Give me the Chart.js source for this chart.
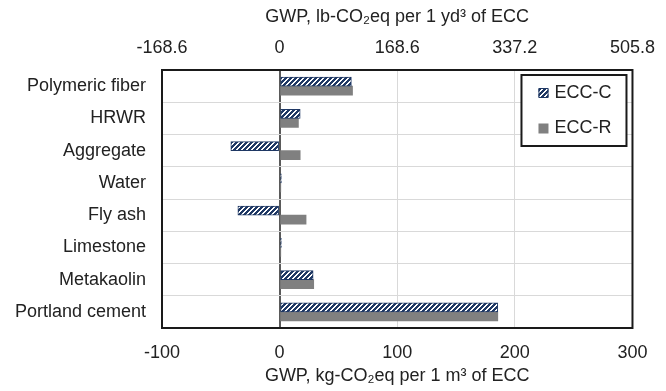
<!DOCTYPE html>
<html>
<head>
<meta charset="utf-8">
<script src="https://cdn.jsdelivr.net/npm/chart.js@4"></script>
<style>
  html, body { margin: 0; padding: 0; background: #fff; }
  #wrap { width: 666px; height: 391px; position: relative; }
</style>
</head>
<body>
<div id="wrap"><canvas id="chart"></canvas></div>
<script>
// components of the ECC mix, top to bottom
const materials = ["Polymeric fiber", "HRWR", "Aggregate", "Water", "Fly ash", "Limestone", "Metakaolin", "Portland cement"];
// GWP, kg-CO2eq per 1 m3 of ECC
const eccC = [61, 17.5, -41.5, 1.5, -35.5, 1.5, 28.5, 185.5];
const eccR = [62, 16, 17.5, 1, 22.5, 1, 29, 185.5];
// top axis tick labels (lb per yd3)
const lbTicks = ["-168.6", "0", "168.6", "337.2", "505.8"];

const FONT = { family: '"Liberation Sans", Arial, sans-serif', size: 18 };
const INK = "#222";
const NAVY = "#1f3864";
const GRAY = "#808080";

function hatch() {
  const c = document.createElement("canvas");
  c.width = 5; c.height = 5;
  const g = c.getContext("2d");
  g.fillStyle = NAVY;
  g.fillRect(0, 0, 5, 5);
  g.fillStyle = "#fff";
  for (let x = 0; x < 5; x++)
    for (let y = 0; y < 5; y++)
      if ((x + y) % 5 < 2) g.fillRect(x, y, 1, 1);
  return g.createPattern(c, "repeat");
}

const frame = {
  id: "frame",
  afterDraw(chart) {
    const { ctx, chartArea: a } = chart;
    ctx.save();
    ctx.strokeStyle = "#1a1a1a";
    ctx.lineWidth = 2;
    ctx.strokeRect(a.left, a.top, a.right - a.left, a.bottom - a.top);
    ctx.restore();
  }
};

const boxLegend = {
  id: "boxLegend",
  afterDraw(chart) {
    const { ctx, chartArea: a } = chart;
    const x = a.right - 111, y = a.top + 5, w = 105, h = 71;
    ctx.save();
    ctx.fillStyle = "#fff";
    ctx.fillRect(x, y, w, h);
    ctx.lineWidth = 2;
    ctx.strokeStyle = "#1a1a1a";
    ctx.strokeRect(x, y, w, h);
    ctx.font = FONT.size + "px " + FONT.family;
    ctx.textBaseline = "middle";
    chart.data.datasets.forEach((ds, i) => {
      const cy = y + 18 + i * 35.5;
      ctx.fillStyle = ds.backgroundColor;
      ctx.fillRect(x + 17, cy - 5, 10, 10);
      if (ds.borderWidth) {
        ctx.strokeStyle = ds.borderColor;
        ctx.lineWidth = 1;
        ctx.strokeRect(x + 17.5, cy - 4.5, 9, 9);
      }
      ctx.fillStyle = INK;
      ctx.fillText(ds.label, x + 33, cy);
    });
    ctx.restore();
  }
};

new Chart(document.getElementById("chart"), {
  type: "bar",
  data: {
    labels: materials,
    datasets: [
      {
        label: "ECC-C",
        data: eccC,
        backgroundColor: hatch(),
        borderColor: NAVY,
        borderWidth: 1,
        borderSkipped: false,
        barThickness: 9,
        xAxisID: "x"
      },
      {
        label: "ECC-R",
        data: eccR,
        backgroundColor: GRAY,
        borderWidth: 0,
        barThickness: 9,
        xAxisID: "x"
      }
    ]
  },
  options: {
    indexAxis: "y",
    responsive: true,
    maintainAspectRatio: false,
    animation: false,
    layout: { padding: { left: 0, top: 0, bottom: 0, right: 33 } },
    plugins: {
      legend: { display: false },
      tooltip: { enabled: false }
    },
    scales: {
      x: {
        position: "bottom",
        min: -100,
        max: 300,
        ticks: { stepSize: 100, color: INK, font: FONT, padding: 14, maxRotation: 0 },
        grid: {
          drawTicks: false,
          color: (c) => (c.tick && c.tick.value === 0 ? "#5a5a5a" : "#d9d9d9"),
          lineWidth: (c) => (c.tick && c.tick.value === 0 ? 2 : 1)
        },
        border: { display: false },
        title: {
          display: true,
          text: "GWP, kg-CO₂eq per 1 m³ of ECC",
          color: INK,
          font: FONT,
          padding: { top: 0, bottom: 4 }
        },
        afterFit: (s) => { s.height = 63; }
      },
      x2: {
        position: "top",
        min: -100,
        max: 300,
        ticks: {
          stepSize: 100,
          color: INK,
          font: FONT,
          padding: 11,
          maxRotation: 0,
          callback: (v, i) => lbTicks[i]
        },
        grid: { display: false, drawTicks: false },
        border: { display: false },
        title: {
          display: true,
          text: "GWP, lb-CO₂eq per 1 yd³ of ECC",
          color: INK,
          font: FONT,
          padding: { top: 6, bottom: 0 }
        },
        afterFit: (s) => { s.height = 70; }
      },
      y: {
        ticks: { color: INK, font: FONT, padding: 16 },
        grid: { drawTicks: false, color: "#d9d9d9", lineWidth: 1 },
        border: { display: false },
        afterFit: (s) => { s.width = 162; }
      }
    }
  },
  plugins: [frame, boxLegend]
});
</script>
</body>
</html>
